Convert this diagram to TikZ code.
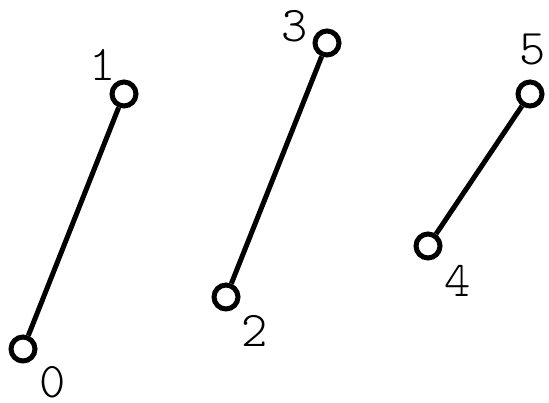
\documentclass[tikz,border=0pt]{standalone}
\usepackage{fontspec}
\newfontfamily\lmlight{Latin Modern Mono Light}
\begin{document}
\begin{tikzpicture}[x=1pt,y=-1pt,
  pt/.style={circle,draw,line width=5pt,minimum size=24pt,inner sep=0pt},
  lbl/.style={inner sep=0pt,font=\lmlight\fontsize{50}{52}\selectfont},
  seg/.style={line width=5pt}]
\useasboundingbox (0,0) rectangle (549,403);
\node[pt] (p0) at (23,349) {};
\node[pt] (p1) at (124,94) {};
\node[pt] (p2) at (226,297) {};
\node[pt] (p3) at (327,43) {};
\node[pt] (p4) at (428,246) {};
\node[pt] (p5) at (530,94) {};
\draw[seg] (p0) -- (p1);
\draw[seg] (p2) -- (p3);
\draw[seg] (p4) -- (p5);
\node[lbl] (l0) at (53,382) {0};
\node[lbl] (l1) at (103,65) {1};
\node[lbl] (l2) at (255,331) {2};
\node[lbl] (l3) at (295,26) {3};
\node[lbl] (l4) at (458,281) {4};
\node[lbl] (l5) at (533,50) {5};
\end{tikzpicture}
\end{document}
